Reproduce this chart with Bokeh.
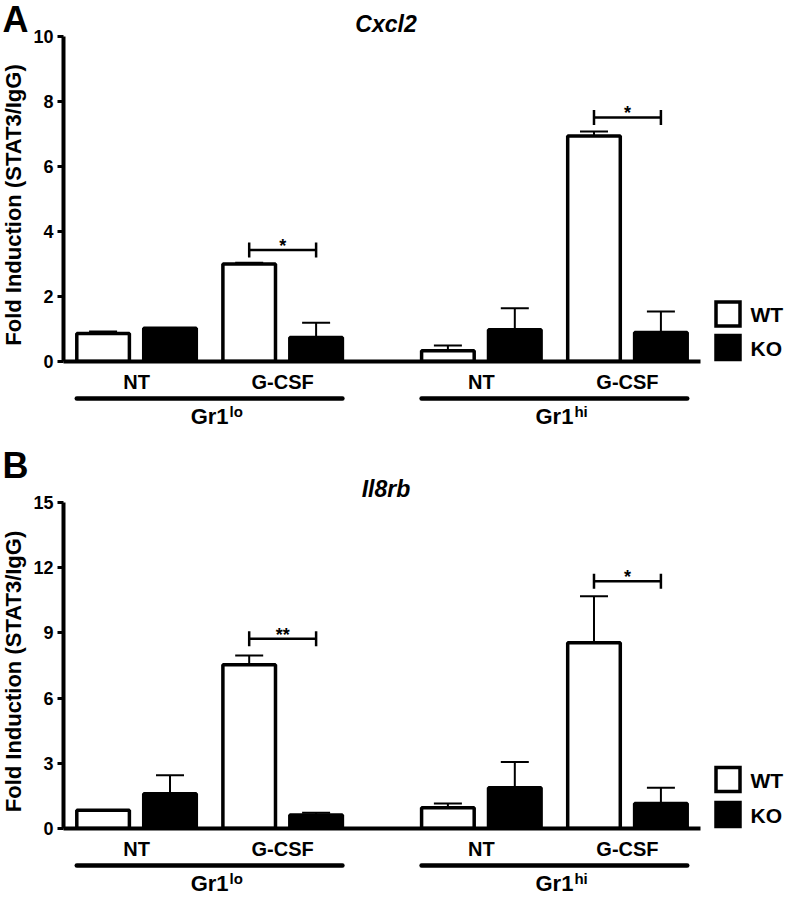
import math
from bokeh.plotting import figure
from bokeh.models import ColumnDataSource, FactorRange, Range1d, Whisker, TeeHead
from bokeh.transform import dodge
from bokeh.layouts import column
from bokeh.core.properties import value
from bokeh.embed import file_html
from bokeh.resources import INLINE

# ---------------- data ----------------
groups = ["Gr1lo", "Gr1hi"]
group_base = ["Gr1", "Gr1"]
group_sup = ["lo", "hi"]
treatments = ["NT", "G-CSF"]
genotypes = ["WT", "KO"]
genotype_fill = ["white", "black"]
y_title = "Fold Induction (STAT3/IgG)"

# Cxcl2 (order: Gr1lo NT, Gr1lo G-CSF, Gr1hi NT, Gr1hi G-CSF)
cxcl2_wt = [0.86, 3.00, 0.33, 6.94]
cxcl2_wt_err = [0.06, 0.04, 0.16, 0.14]
cxcl2_ko = [1.02, 0.74, 0.98, 0.89]
cxcl2_ko_err = [0.0, 0.45, 0.66, 0.65]
cxcl2_sig_y = [3.43, 7.51]
cxcl2_sig_txt = ["*", "*"]
cxcl2_ticks = [0, 2, 4, 6, 8, 10]

# Il8rb
il8rb_wt = [0.84, 7.53, 0.95, 8.55]
il8rb_wt_err = [0.0, 0.43, 0.20, 2.14]
il8rb_ko = [1.60, 0.62, 1.87, 1.15]
il8rb_ko_err = [0.85, 0.10, 1.19, 0.72]
il8rb_sig_y = [8.73, 11.38]
il8rb_sig_txt = ["**", "*"]
il8rb_ticks = [0, 3, 6, 9, 12, 15]

FONT = value("Liberation Sans")
D = 0.229   # dodge offset of WT / KO bars
W = 0.36    # bar width
GP = 0.36   # padding between the two Gr1 groups


def over(r):
    r.level = "overlay"
    return r


def panel(letter, gene, wt, wt_err, ko, ko_err, sig_y, sig_txt, ticks,
          height, top_border, frame_h, letter_dy, title_dy, legend_up):
    factors = [(g, t) for g in groups for t in treatments]
    y_max = ticks[-1]
    left, frame_w, total_w = 63, 637, 788
    p = figure(x_range=FactorRange(*factors, group_padding=GP, range_padding=0),
               y_range=Range1d(0, y_max), width=total_w, height=height,
               output_backend="svg", toolbar_location=None, title=None,
               min_border_left=left, min_border_right=total_w - left - frame_w,
               min_border_top=top_border,
               min_border_bottom=height - top_border - frame_h)
    p.outline_line_color = None
    p.xgrid.visible = False
    p.ygrid.visible = False
    x_end = len(factors) + GP * (len(groups) - 1)     # synthetic end of the factor range
    ppu_y = frame_h / y_max
    ppu_x = frame_w / x_end

    src = ColumnDataSource(dict(
        x=factors, wt=wt, ko=ko,
        wt_hi=[v + e for v, e in zip(wt, wt_err)],
        ko_hi=[v + e for v, e in zip(ko, ko_err)]))

    # error bars (upper only)
    for col, off in (("wt", -D), ("ko", D)):
        p.add_layout(Whisker(source=src, base=dodge("x", off, range=p.x_range),
                             upper=col + "_hi", lower=col, dimension="height",
                             line_width=2, line_color="black",
                             upper_head=TeeHead(size=28, line_width=2, line_color="black"),
                             lower_head=None))

    p.vbar(x=dodge("x", -D, range=p.x_range), top="wt", width=W, source=src,
           fill_color=genotype_fill[0], line_color="black", line_width=3.5)
    p.vbar(x=dodge("x", D, range=p.x_range), top="ko", width=W, source=src,
           fill_color=genotype_fill[1], line_color="black", line_width=3.5)

    # significance brackets
    sig = ColumnDataSource(dict(x=[(g, "G-CSF") for g in groups], y=sig_y, txt=sig_txt))
    p.segment(x0=dodge("x", -D, range=p.x_range), x1=dodge("x", D, range=p.x_range),
              y0="y", y1="y", source=sig, line_color="black", line_width=2.5)
    for off in (-D, D):
        p.scatter(x=dodge("x", off, range=p.x_range), y="y", source=sig, marker="dash",
                  angle=math.pi / 2, size=15, line_color="black", line_width=2.5)
    over(p.text(x="x", y="y", text="txt", source=sig, text_align="center",
                text_baseline="middle", y_offset=-4, text_font=FONT,
                text_font_style="bold", text_font_size="18px", text_color="black"))

    # group lines and labels below the axis
    gsrc = ColumnDataSource(dict(first=[(g, "NT") for g in groups],
                                 last=[(g, "G-CSF") for g in groups],
                                 y=[-37 / ppu_y] * len(groups), y0=[0] * len(groups),
                                 base=group_base, sup=group_sup))
    over(p.segment(x0=dodge("first", -(D + W / 2), range=p.x_range),
                   x1=dodge("last", D + W / 2, range=p.x_range),
                   y0="y", y1="y", source=gsrc, line_color="black", line_width=4.5,
                   line_cap="round"))
    over(p.text(x=dodge("first", 0.5, range=p.x_range), y="y0", text="base", source=gsrc,
                x_offset=19, y_offset=55, text_align="right", text_baseline="middle",
                text_font=FONT, text_font_style="bold", text_font_size="22px",
                text_color="black"))
    over(p.text(x=dodge("first", 0.5, range=p.x_range), y="y0", text="sup", source=gsrc,
                x_offset=20, y_offset=49.5, text_align="left", text_baseline="middle",
                text_font=FONT, text_font_style="bold", text_font_size="15px",
                text_color="black"))

    # panel letter, gene title and y-axis title
    tsrc = ColumnDataSource(dict(x=[0], xc=[x_end / 2], y=[y_max], ym=[y_max / 2],
                                 letter=[letter], gene=[gene], ylab=[y_title]))
    over(p.text(x="x", y="y", text="letter", source=tsrc, x_offset=2 - left,
                y_offset=letter_dy, text_align="left", text_baseline="middle",
                text_font=FONT, text_font_style="bold", text_font_size="36px",
                text_color="black"))
    over(p.text(x="xc", y="y", text="gene", source=tsrc, x_offset=4,
                y_offset=title_dy, text_align="center", text_baseline="middle",
                text_font=FONT, text_font_style="bold italic", text_font_size="23px",
                text_color="black"))
    over(p.text(x="x", y="ym", text="ylab", source=tsrc, x_offset=-50.5, y_offset=6,
                angle=math.pi / 2, text_align="center", text_baseline="middle",
                text_font=FONT, text_font_style="bold", text_font_size="22px",
                text_color="black"))

    # legend drawn just right of the frame
    cx = x_end + 27.5 / ppu_x
    half_x, half_y = 12 / ppu_x, 12 / ppu_y
    for up, fill in zip(legend_up, genotype_fill):
        cy = up / ppu_y
        over(p.patch(x=[cx - half_x, cx + half_x, cx + half_x, cx - half_x],
                     y=[cy - half_y, cy - half_y, cy + half_y, cy + half_y],
                     fill_color=fill, line_color="black", line_width=3.5,
                     line_join="miter"))
    lsrc = ColumnDataSource(dict(x=[cx] * 2, y=[u / ppu_y for u in legend_up],
                                 label=genotypes))
    over(p.text(x="x", y="y", text="label", source=lsrc,
                x_offset=22.5, y_offset=0.5, text_align="left", text_baseline="middle",
                text_font=FONT, text_font_style="bold", text_font_size="21px",
                text_color="black"))

    # axes
    xa = p.xaxis[0]
    xa.axis_line_width = 4
    xa.axis_line_color = "black"
    xa.major_tick_line_color = None
    xa.minor_tick_line_color = None
    xa.major_tick_out = 0
    xa.major_tick_in = 0
    xa.major_label_standoff = 9
    xa.major_label_text_font = "Liberation Sans"
    xa.major_label_text_font_style = "bold"
    xa.major_label_text_font_size = "20px"
    xa.major_label_text_color = "black"
    xa.group_text_color = None
    xa.separator_line_color = None

    ya = p.yaxis[0]
    ya.ticker = ticks
    ya.axis_line_width = 4
    ya.axis_line_color = "black"
    ya.major_tick_line_width = 3
    ya.major_tick_line_color = "black"
    ya.major_tick_out = 6
    ya.major_tick_in = 0
    ya.minor_tick_line_color = None
    ya.major_label_standoff = 4
    ya.major_label_text_font = "Liberation Sans"
    ya.major_label_text_font_style = "bold"
    ya.major_label_text_font_size = "18px"
    ya.major_label_text_color = "black"
    return p


pa = panel("A", "Cxcl2", cxcl2_wt, cxcl2_wt_err, cxcl2_ko, cxcl2_ko_err,
           cxcl2_sig_y, cxcl2_sig_txt, cxcl2_ticks,
           height=444, top_border=36, frame_h=325, letter_dy=-17, title_dy=-13,
           legend_up=(47.5, 14))
pb = panel("B", "Il8rb", il8rb_wt, il8rb_wt_err, il8rb_ko, il8rb_ko_err,
           il8rb_sig_y, il8rb_sig_txt, il8rb_ticks,
           height=454, top_border=58, frame_h=326, letter_dy=-37, title_dy=-13.5,
           legend_up=(49, 14))

layout = column(pa, pb)
open("out.html", "w").write(file_html(layout, INLINE))
